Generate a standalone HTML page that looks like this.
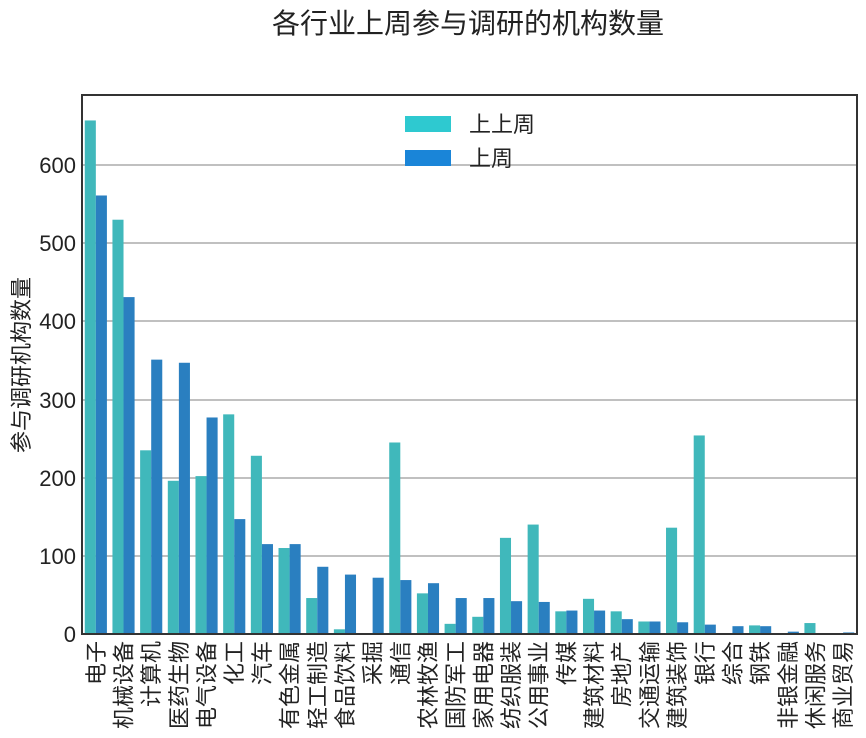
<!DOCTYPE html>
<html><head><meta charset="utf-8"><style>
html,body{margin:0;padding:0;background:#fff;}
svg{display:block;font-family:"Liberation Sans","Noto Sans CJK SC",sans-serif;}
</style></head><body>
<svg width="866" height="738" viewBox="0 0 866 738" xmlns="http://www.w3.org/2000/svg">
<text x="468" y="33" font-size="28" text-anchor="middle" fill="#222">各行业上周参与调研的机构数量</text>
<g id="grid" stroke="#808080" stroke-width="1">
<line x1="82" x2="857" y1="556" y2="556"/>
<line x1="82" x2="857" y1="478" y2="478"/>
<line x1="82" x2="857" y1="400" y2="400"/>
<line x1="82" x2="857" y1="321" y2="321"/>
<line x1="82" x2="857" y1="243" y2="243"/>
<line x1="82" x2="857" y1="165" y2="165"/>
</g>
<g id="bars"></g>
<rect x="82" y="95" width="775" height="539" fill="none" stroke="#333" stroke-width="2"/>
<g font-size="22" fill="#222" text-anchor="end">
<text x="76" y="642">0</text>
<text x="76" y="564">100</text>
<text x="76" y="486">200</text>
<text x="76" y="408">300</text>
<text x="76" y="329">400</text>
<text x="76" y="251">500</text>
<text x="76" y="173">600</text>
</g>
<text transform="translate(29,365) rotate(-90)" font-size="22" text-anchor="middle" fill="#222">参与调研机构数量</text>
<rect x="405" y="116" width="46" height="16" fill="#2ec9d0"/>
<rect x="405" y="150" width="46" height="16" fill="#1a85d8"/>
<text x="469" y="132" font-size="22" fill="#222">上上周</text>
<text x="469" y="166" font-size="22" fill="#222">上周</text>
<g id="labels" font-size="22" fill="#222" text-anchor="end"></g>
</svg>
<script>
var d=[["电子",657,561],["机械设备",530,431],["计算机",235,351],["医药生物",196,347],["电气设备",202,277],["化工",281,147],["汽车",228,115],["有色金属",110,115],["轻工制造",46,86],["食品饮料",6,76],["采掘",0,72],["通信",245,69],["农林牧渔",52,65],["国防军工",13,46],["家用电器",22,46],["纺织服装",123,42],["公用事业",140,41],["传媒",29,30],["建筑材料",45,30],["房地产",29,19],["交通运输",16,16],["建筑装饰",136,15],["银行",254,12],["综合",0,10],["钢铁",11,10],["非银金融",0,3],["休闲服务",14,0],["商业贸易",0,2]];
var ns="http://www.w3.org/2000/svg",b=document.getElementById("bars"),l=document.getElementById("labels");
var u=775/28,k=469/600,w=u*0.4;
d.forEach(function(r,i){var c=82+(i+0.5)*u;
[[r[1],c-w,"#40b8bb"],[r[2],c,"#2a7fc0"]].forEach(function(q){if(q[0]<=0)return;var e=document.createElementNS(ns,"rect");var h=q[0]*k;e.setAttribute("x",q[1]);e.setAttribute("y",634-h);e.setAttribute("width",w);e.setAttribute("height",h);e.setAttribute("fill",q[2]);b.appendChild(e);});
var t=document.createElementNS(ns,"text");t.setAttribute("transform","translate("+(c+8)+",641) rotate(-90)");t.textContent=r[0];l.appendChild(t);});
</script>
</body></html>
